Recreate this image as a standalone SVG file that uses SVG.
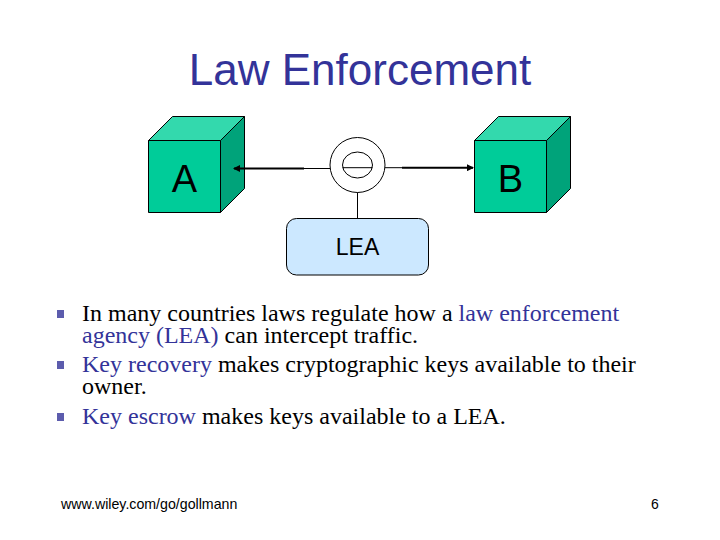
<svg xmlns="http://www.w3.org/2000/svg" width="720" height="540" viewBox="0 0 720 540">
<style>
.s{font-family:"Liberation Sans",Arial,sans-serif}
.b{font-family:"Liberation Serif","Times New Roman",serif;font-size:24px;fill:#000}
.h{fill:#333399}
.e{stroke:#000;stroke-width:1;stroke-linejoin:round}
.c{stroke:#000;fill:none}
</style>
<defs><marker id="ah" markerWidth="7" markerHeight="7" refX="6" refY="3.5" orient="auto" markerUnits="userSpaceOnUse"><path d="M0,0L7,3.5L0,7Z" fill="#000"/></marker></defs>
<rect width="720" height="540" fill="#fff"/>
<text class="s" x="360" y="85" font-size="44" text-anchor="middle" fill="#333399">Law Enforcement</text>
<g id="node-a">
<path class="e" fill="#00cc99" d="M148.5 140.5H220.5V212.5H148.5Z"/>
<path class="e" fill="#33d9ad" d="M148.5 140.5L172.5 116.5H244.5L220.5 140.5Z"/>
<path class="e" fill="#00a37a" d="M220.5 140.5L244.5 116.5V188.5L220.5 212.5Z"/>
<text class="s" x="184.5" y="192" font-size="38" text-anchor="middle">A</text>
</g>
<g id="node-b">
<path class="e" fill="#00cc99" d="M474.5 140.5H546.5V212.5H474.5Z"/>
<path class="e" fill="#33d9ad" d="M474.5 140.5L498.5 116.5H570.5L546.5 140.5Z"/>
<path class="e" fill="#00a37a" d="M546.5 140.5L570.5 116.5V188.5L546.5 212.5Z"/>
<text class="s" x="510.5" y="192" font-size="38" text-anchor="middle">B</text>
</g>
<g id="node-tap">
<circle class="c" stroke-width="1" cx="357.5" cy="165" r="27.5" fill="#fff"/>
<ellipse class="c" stroke-width="1" cx="357.5" cy="165" rx="15" ry="13"/>
<path class="c" stroke-width="1" d="M342.5 167.7H372.5"/>
</g>
<g id="node-lea">
<rect class="e" x="286.5" y="218.5" width="142" height="56.5" rx="10" fill="#cce8ff"/>
<text class="s" x="357.5" y="255" font-size="23" text-anchor="middle">LEA</text>
</g>
<g id="connectors">
<path class="c" stroke-width="1" d="M330 168.5H304M385 167.7H402M357.5 192.500V218.500"/>
<path class="c" stroke-width="2" d="M304 168.500H234" marker-end="url(#ah)"/>
<path class="c" stroke-width="2" d="M402 167.700H473" marker-end="url(#ah)"/>
</g>
<g id="bullets" fill="#333399" fill-opacity=".8">
<rect x="57" y="310" width="7" height="8"/>
<rect x="57" y="361" width="7" height="8"/>
<rect x="57" y="413" width="7" height="8"/>
</g>
<text class="b" x="82" y="321">In many countries laws regulate how a <tspan class="h">law enforcement</tspan><tspan x="82" y="343" class="h">agency (LEA)</tspan> can intercept traffic.</text>
<text class="b" x="82" y="372"><tspan class="h">Key recovery</tspan> makes cryptographic keys available to their<tspan x="82" y="394">owner.</tspan></text>
<text class="b" x="82" y="424"><tspan class="h">Key escrow</tspan> makes keys available to a LEA.</text>
<text class="s" x="61" y="509" font-size="14.200">www.wiley.com/go/gollmann</text>
<text class="s" x="651" y="509" font-size="14">6</text>
</svg>
